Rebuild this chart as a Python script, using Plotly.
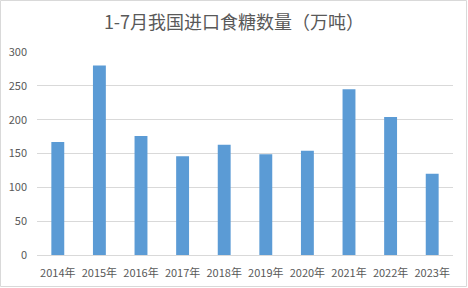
import plotly.graph_objects as go

categories = ["2014年", "2015年", "2016年", "2017年", "2018年", "2019年", "2020年", "2021年", "2022年", "2023年"]
values = [167, 280, 176, 146, 163, 149, 154, 245, 204, 120]
y_ticks = [0, 50, 100, 150, 200, 250, 300]
title_text = "1-7月我国进口食糖数量（万吨）"

W, H = 468, 288
L, R, T, B = 37, 15, 52, 33
pw, ph = W - L - R, H - T - B

fig = go.Figure(go.Bar(x=categories, y=values, marker_color="#5b9bd5", marker_line_width=0))

font = "Noto Sans CJK SC, Microsoft YaHei, sans-serif"
fig.update_layout(
    width=W, height=H,
    margin=dict(l=L, r=R, t=T, b=B, pad=0, autoexpand=False),
    paper_bgcolor="white", plot_bgcolor="white",
    bargap=0.69,
    showlegend=False,
    title=dict(text=title_text, x=0.5, xanchor="center", y=1 - 23 / H, yanchor="middle",
               yref="container", font=dict(family=font, size=18, color="#595959")),
    font=dict(family=font, size=11, color="#595959"),
    xaxis=dict(showgrid=False, showline=True, linecolor="#d9d9d9", linewidth=1, automargin=False,
               ticks="", ticklabelstandoff=8, tickfont=dict(size=11, color="#595959")),
    yaxis=dict(range=[0, 300], tickvals=y_ticks, showgrid=True, gridcolor="#d9d9d9",
               gridwidth=1, zeroline=False, showline=False, ticks="", automargin=False,
               ticklabelstandoff=9, tickfont=dict(size=11, color="#595959")),
    shapes=[dict(type="rect", xref="paper", yref="paper",
                 x0=(0.5 - L) / pw, x1=(W - 1.5 - L) / pw,
                 y0=(H - B - (H - 1.5)) / ph, y1=(H - B - 0.5) / ph,
                 line=dict(color="#d9d9d9", width=1), layer="below")],
)

fig.write_html("out.html")
